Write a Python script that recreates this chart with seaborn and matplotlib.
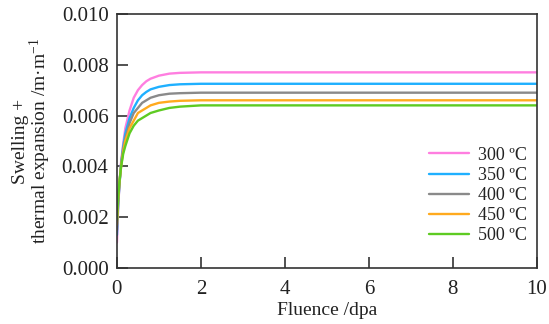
import matplotlib
matplotlib.use("Agg")
import matplotlib.pyplot as plt
import seaborn as sns
import pandas as pd

fluence = [0, 0.03, 0.06, 0.1, 0.15, 0.2, 0.3, 0.4, 0.5, 0.6, 0.7, 0.8, 1.0, 1.25, 1.5, 2.0, 3.0, 5.0, 10.0]
s300 = [0.0010, 0.0024, 0.0033, 0.0042, 0.0049, 0.0055, 0.0062, 0.0067, 0.0070, 0.0072, 0.00735, 0.00745, 0.00757, 0.00765, 0.00768, 0.0077, 0.0077, 0.0077, 0.0077]
s350 = [0.0013, 0.0025, 0.0033, 0.0041, 0.0048, 0.0053, 0.0059, 0.0063, 0.0066, 0.0068, 0.00693, 0.00703, 0.00713, 0.0072, 0.00723, 0.00725, 0.00725, 0.00725, 0.00725]
s400 = [0.0015, 0.0026, 0.0033, 0.0041, 0.0047, 0.0051, 0.0057, 0.0061, 0.0063, 0.0065, 0.0066, 0.00670, 0.00680, 0.00686, 0.00688, 0.0069, 0.0069, 0.0069, 0.0069]
s450 = [0.0017, 0.0027, 0.0034, 0.0040, 0.0046, 0.0050, 0.0055, 0.0058, 0.0061, 0.0062, 0.0063, 0.00640, 0.00650, 0.00655, 0.00658, 0.0066, 0.0066, 0.0066, 0.0066]
s500 = [0.0019, 0.0028, 0.0034, 0.0040, 0.0045, 0.0048, 0.0053, 0.0056, 0.0058, 0.0059, 0.0060, 0.00610, 0.00620, 0.00630, 0.00635, 0.0064, 0.0064, 0.0064, 0.0064]
labels = ["300 ºC", "350 ºC", "400 ºC", "450 ºC", "500 ºC"]
colors = ["#ff7ee0", "#1fb0ff", "#8a8a8a", "#ffaa1e", "#5ecb22"]

rows = []
for lab, ser in zip(labels, [s300, s350, s400, s450, s500]):
    for f, v in zip(fluence, ser):
        rows.append({"Fluence": f, "Value": v, "Temp": lab})
df = pd.DataFrame(rows)

sns.set_theme(style="white")
plt.rcParams["font.family"] = ["Liberation Serif", "DejaVu Serif"]
plt.rcParams["mathtext.fontset"] = "custom"
plt.rcParams["mathtext.rm"] = "Liberation Serif"
plt.rcParams["mathtext.it"] = "Liberation Serif"

fig = plt.figure(figsize=(5.49, 3.24), dpi=100)
ax = fig.add_axes([0.213, 0.173, 0.765, 0.784])
sns.lineplot(data=df, x="Fluence", y="Value", hue="Temp", palette=colors, linewidth=1.7, ax=ax)

ax.set_xlim(0, 10)
ax.set_ylim(0, 0.010)
ax.set_xticks([0, 2, 4, 6, 8, 10])
ax.set_yticks([0.0, 0.002, 0.004, 0.006, 0.008, 0.010])
ax.set_yticklabels(["0.000", "0.002", "0.004", "0.006", "0.008", "0.010"])
ax.tick_params(direction="in", length=8, width=1.2, color="#333333", labelsize=15, labelcolor="#222222", pad=6)
ax.tick_params(axis="y", left=True, right=False)
ax.tick_params(axis="x", bottom=True, top=False, pad=9)
for sp in ax.spines.values():
    sp.set_color("#333333")
    sp.set_linewidth(1.2)
ax.set_xlabel("Fluence /dpa", fontsize=14, color="#222222", labelpad=2)
ax.set_ylabel("Swelling +\nthermal expansion /m·m$^{-1}$", fontsize=14, color="#222222", labelpad=6, linespacing=0.95)

leg = ax.legend(loc="lower right", bbox_to_anchor=(1.015, 0.03), frameon=False, fontsize=13,
                handlelength=2.2, handletextpad=0.5, labelspacing=0.17)
for t in leg.get_texts():
    t.set_color("#222222")

fig.savefig("out.png", dpi=100)
